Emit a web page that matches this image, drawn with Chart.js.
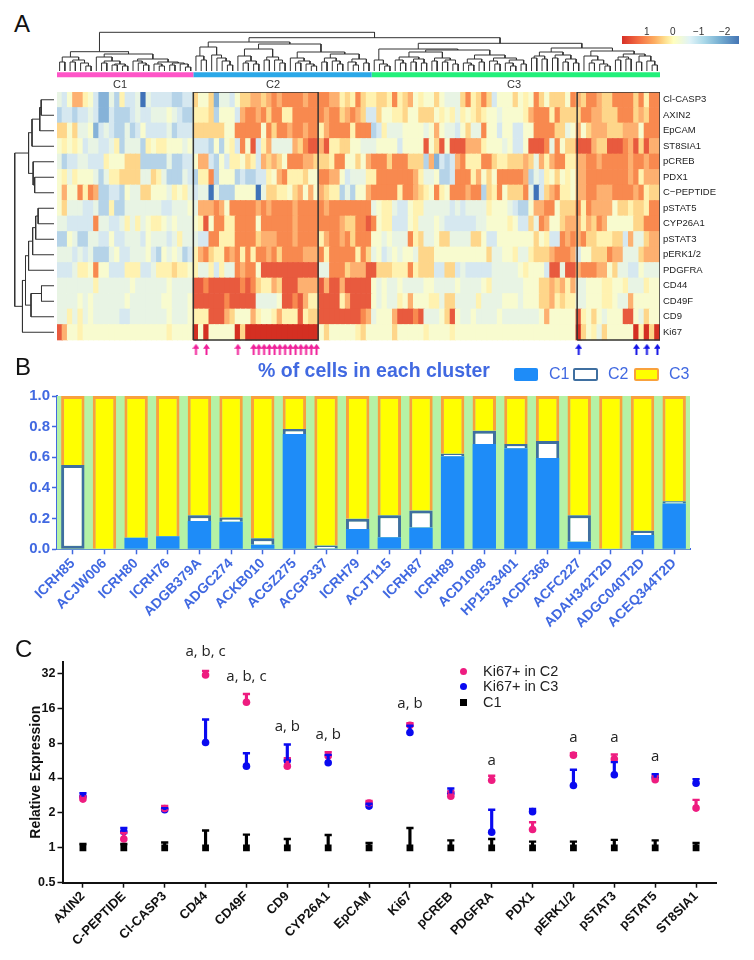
<!DOCTYPE html>
<html>
<head>
<meta charset="utf-8">
<script src="https://cdn.jsdelivr.net/npm/chart.js@4"></script>
<style>
  html, body { margin: 0; padding: 0; background: #fff; }
  #page { position: relative; width: 754px; height: 960px; overflow: hidden; font-family: "Liberation Sans", sans-serif; }
  #page canvas { position: absolute; }
  .txt { position: absolute; white-space: nowrap; line-height: 1; }
  .letter { font-size: 24px; color: #111; }
  .swatch { position: absolute; box-sizing: border-box; border-radius: 2px; }
  .dot { position: absolute; }
</style>
</head>
<body>
<div id="page">
  <canvas id="treeTop" width="603" height="48" style="left:57px;top:30px"></canvas>
  <canvas id="treeLeft" width="41" height="248" style="left:13px;top:92px"></canvas>
  <canvas id="heat" width="697" height="268" style="left:57px;top:92px"></canvas>
  <canvas id="heatOver" width="603" height="268" style="left:57px;top:92px"></canvas>
  <canvas id="clusters" width="754" height="245" style="left:0;top:385px"></canvas>
  <canvas id="expr" width="729" height="320" style="left:25px;top:640px"></canvas>

  <div class="txt letter" style="left:14px;top:12px">A</div>
  <div class="txt letter" style="left:15px;top:355px">B</div>
  <div class="txt letter" style="left:15px;top:637px">C</div>

  <div class="txt" style="left:113px;top:79px;font-size:11px;color:#333">C1</div>
  <div class="txt" style="left:266px;top:79px;font-size:11px;color:#333">C2</div>
  <div class="txt" style="left:507px;top:79px;font-size:11px;color:#333">C3</div>

  <div style="position:absolute;left:622px;top:36px;width:117px;height:8px;background:linear-gradient(to right,#d73027,#f46d43 14%,#fdae61 28%,#fee090 37%,#ffffbf 44%,#e0f3f8 58%,#abd9e9 70%,#74add1 84%,#4575b4)"></div>
  <div class="txt" style="left:644px;top:27px;font-size:10px;color:#333">1</div>
  <div class="txt" style="left:670px;top:27px;font-size:10px;color:#333">0</div>
  <div class="txt" style="left:693px;top:27px;font-size:10px;color:#333">−1</div>
  <div class="txt" style="left:719px;top:27px;font-size:10px;color:#333">−2</div>

  <div class="txt" style="left:258px;top:361px;font-size:19.5px;font-weight:bold;color:#4169e1">% of cells in each cluster</div>
  <div class="swatch" style="left:514px;top:368px;width:24px;height:13px;background:#1e8cf8"></div>
  <div class="txt" style="left:549px;top:366px;font-size:16px;color:#4169e1">C1</div>
  <div class="swatch" style="left:573px;top:368px;width:25px;height:13px;background:#fff;border:2.5px solid #3f6fa0"></div>
  <div class="txt" style="left:608px;top:366px;font-size:16px;color:#4169e1">C2</div>
  <div class="swatch" style="left:634px;top:368px;width:25px;height:13px;background:#ffff00;border:2.5px solid #f9a13c"></div>
  <div class="txt" style="left:669px;top:366px;font-size:16px;color:#4169e1">C3</div>

  <div class="dot" style="left:460px;top:668px;width:7px;height:7px;border-radius:50%;background:#ee1c80"></div>
  <div class="txt" style="left:483px;top:664px;font-size:14.5px;color:#222">Ki67+ in C2</div>
  <div class="dot" style="left:460px;top:683px;width:7px;height:7px;border-radius:50%;background:#0a0af0"></div>
  <div class="txt" style="left:483px;top:679px;font-size:14.5px;color:#222">Ki67+ in C3</div>
  <div class="dot" style="left:460px;top:699px;width:7px;height:7px;background:#000"></div>
  <div class="txt" style="left:483px;top:695px;font-size:14.5px;color:#222">C1</div>
</div>

<script>
// ---- panel A: heatmap levels, one hex digit per column (C1 | box | rest of C2 | C3 | box)
const parseRow = s => s.replace(/\s/g, '').split('').map(c => parseInt(c, 16));

const rowClCasp3 = parseRow("43588653114263340433332233 755714435778878989999899 9988676976 6776967856557544479679735557 56597577759 8799877999979699");
const rowAxin2   = parseRow("23323343113222343344454322 666725553899897996699999 9899789873 3755667557775656465676554555 56899969777 7998877799978799");
const rowEpcam   = parseRow("77574451343224235333342333 777777559999959799899899 6899996999 2364445555458544357449553553 35599997745 8578887778885999");
const rowSt8sia1 = parseRow("56565344334624442656655545 33325256395a3684444879aa 8a66775544 4555535555a57a5aaa8886555453 35aaa949577 aaa877aaa98a7a88");
const rowPcreb   = parseRow("42334433365557772222242233 588325366576387875999887 7769955758 9997999777281323896669976677 78748689966 8899899999899899");
const rowPdx1    = parseRow("56465554246677774476422243 266925552322336589666755 9988534446 6999999986445223999685759999 98243657565 8899999999896888");
const rowCpep    = parseRow("58559698223325447755546564 344042225555047766578585 8766242558 9999969987659659998992769577 79403789665 8899888999989677");
const rowPstat5  = parseRow("57444334226224444444334445 488898599999898999989999 9899999999 4566433566444443434444655543 22588995777 9698888577677699");
const rowCyp26a1 = parseRow("44333339443346464566545444 56a599669999599999989999 999987799a 9566333564445433333344555565 33749855788 8687985555577999");
const rowPstat3  = parseRow("22542244335334443544434644 433996669999788899989999 6899897999 5545444967445774444775335555 55575633989 8977666773844788");
const rowPerk    = parseRow("44434342224533444532545423 689766989696998979999888 9699999697 4534545547775555555555744556 44677789998 3557779884447888");
const rowPdgfra  = parseRow("33346659553336663346667665 6446364498995aaaaaaaaaaa 449997888a a777666967773377343333344444 565553aa4aa 8999885744335444");
const rowCd44    = parseRow("44444446444444544444454444 aa9aaaaaa9a976687aaa8888 a8aa8aaaaa 5454454444554444544445644444 45557787868 4455566556444655");
const rowCd49f   = parseRow("44445454444445444444554445 aaaaaa9aaaaa44445aa9a866 aaaa68aaaa 5454465855566477444464444555 45557786766 4455566544855555");
const rowCd9     = parseRow("44646454444433444444454445 666aaa87555865568666a677 aaaaaaaa98 45558aaa9a44457a544544445444 44445855555 a65754555aa54755");
const rowKi67    = parseRow("a8556555555555555555565555 b5b55555b7bbbbbbbbbbbbbb 5755555675 5555755555655556555555555555 55555555555 b7564755555b6b7b");

const heatRows = [rowClCasp3, rowAxin2, rowEpcam, rowSt8sia1, rowPcreb, rowPdx1, rowCpep, rowPstat5, rowCyp26a1, rowPstat3, rowPerk, rowPdgfra, rowCd44, rowCd49f, rowCd9, rowKi67];
const rowNames = ['Cl-CASP3', 'AXIN2', 'EpCAM', 'ST8SIA1', 'pCREB', 'PDX1', 'C−PEPTIDE', 'pSTAT5', 'CYP26A1', 'pSTAT3', 'pERK1/2', 'PDGFRA', 'CD44', 'CD49F', 'CD9', 'Ki67'];
const heatColors = ['#3f72b8', '#86b2d8', '#b5d3e8', '#d6e8f0', '#e8f4e4', '#f8fbcf', '#fff2b0', '#fed68a', '#fdb070', '#f8894f', '#e85a3e', '#d42f22'];

const columnCount = 115;
const clusterSizes = [26, 34, 55];
const clusterColors = ['#ff55c8', '#2ba8e8', '#22f07a'];
const arrowColsC2 = [26, 28, 34, 37, 38, 39, 40, 41, 42, 43, 44, 45, 46, 47, 48, 49];
const arrowColsC3 = [99, 110, 112, 114];
const boxSpans = [[26, 49.8], [99.2, 115]];

// dendrograms: [height, child, child], 0 is a leaf
const treeC1 = [19.3,
  [14, [9, 0, 0], [11, [9, 0, 0], [8, 0, [5, 0, 0]]]],
  [17, [14, 0, [10, [8, 0, 0], [7, [6, 0, 0], [5, 0, 0]]]],
       [12, [10, 0, [8, 0, [6, 0, 0]]], [9, [7, 0, [5, 0, 0]], [8, [6, 0, 0], [7, 0, [4, 0, 0]]]]]]];
const treeC2 = [29,
  [24, [15, 0, [11, 0, 0]], [16, 0, [13, 0, [10, 0, [6, 0, 0]]]]],
  [27,
    [22, [15, 0, [10, [8, 0, 0], [7, 0, 0]]], [14, [11, 0, 0], [11, 0, [8, 0, 0]]]],
    [19, [13, 0, [10, [8, 0, 0], [7, 0, [5, 0, 0]]]],
         [17, [13, [9, 0, 0], [10, 0, [7, 0, 0]]], [12, [9, 0, [6, 0, 0]], [8, 0, 0]]]]]];
const treeC3 = [27.7,
  [22, [11, 0, [7, 0, [5, 0, 0]]],
       [21, [19, [14, [11, 0, [8, 0, 0]], [12, [9, 0, 0], [8, 0, 0]]], [13, [10, 0, 0], [11, [9, 0, 0], [7, 0, 0]]]],
            [16, [12, [8, 0, [6, 0, 0]], [9, 0, 0]], [13, [10, 0, [7, 0, 0]], [11, [8, 0, [5, 0, 0]], [7, 0, 0]]]]]],
  [23, [19, [15, [13, 0, 0], [12, 0, 0]], [16, [13, 0, 0], [12, [9, 0, 0], [8, 0, 0]]]],
       [20, [15, 0, [11, [8, 0, 0], [7, 0, [5, 0, 0]]]],
            [17, [14, [11, 0, 0], [12, 0, 0]], [15, [9, 0, 0], [10, 0, [6, 0, 0]]]]]]];
const treeColumns = [38.7, treeC1, [33.3, treeC2, treeC3]];
const treeRows = [38.6,
  [25, [21.6, [14, [12.6, 0, 0], 0], 0], [20.5, 0, [19, 0, 0]]],
  [31, [28, [25, [21, [18, [15.6, 0, 0], 0], 0], 0], [22.6, [12.3, 0, 0], 0]], 0]];

// ---- panel B
const donors = ['ICRH85', 'ACJW006', 'ICRH80', 'ICRH76', 'ADGB379A', 'ADGC274', 'ACKB010', 'ACGZ275', 'ACGP337', 'ICRH79', 'ACJT115', 'ICRH87', 'ICRH89', 'ACD1098', 'HP1533401', 'ACDF368', 'ACFC227', 'ADAH342T2D', 'ADGC040T2D', 'ACEQ344T2D'];
const shareC1 = [0, 0, 0.076, 0.085, 0.184, 0.18, 0.03, 0.752, 0.006, 0.132, 0.078, 0.142, 0.607, 0.687, 0.659, 0.596, 0.05, 0, 0.093, 0.298];
const shareC2 = [0.55, 0, 0, 0, 0.038, 0.027, 0.042, 0.032, 0.018, 0.068, 0.144, 0.111, 0.017, 0.086, 0.028, 0.11, 0.172, 0, 0.028, 0.015];
const shareC3 = [0.45, 1, 0.924, 0.915, 0.778, 0.793, 0.928, 0.216, 0.976, 0.8, 0.778, 0.747, 0.376, 0.227, 0.313, 0.294, 0.778, 1, 0.879, 0.687];
const shareTicks = [0, 0.2, 0.4, 0.6, 0.8, 1];

// ---- panel C
const markers = ['AXIN2', 'C-PEPTIDE', 'Cl-CASP3', 'CD44', 'CD49F', 'CD9', 'CYP26A1', 'EpCAM', 'Ki67', 'pCREB', 'PDGFRA', 'PDX1', 'pERK1/2', 'pSTAT3', 'pSTAT5', 'ST8SIA1'];
const c2Mean  = [2.63, 1.19, 2.18, 30.9, 18.0, 5.06, 6.2, 2.43, 11.4, 2.79, 3.83, 1.44, 6.3, 5.82, 3.86, 2.2];
const c2Upper = [2.77, 1.34, 2.3, 33.6, 21.2, 5.94, 6.68, 2.54, 11.9, 3.06, 4.18, 1.66, 6.55, 6.38, 4.18, 2.59];
const c3Mean  = [2.77, 1.38, 2.13, 8.1, 5.06, 5.67, 5.41, 2.29, 9.88, 2.96, 1.365, 2.05, 3.45, 4.27, 4.04, 3.61];
const c3Upper = [2.96, 1.48, 2.2, 12.8, 6.55, 7.78, 6.33, 2.4, 11.3, 3.25, 2.13, 2.16, 4.71, 5.48, 4.32, 3.91];
const c1Mean  = [1, 1, 1, 1, 1, 1, 1, 1, 1, 1, 1, 1, 1, 1, 1, 1];
const c1Upper = [1.08, 1.08, 1.11, 1.41, 1.3, 1.19, 1.29, 1.1, 1.48, 1.16, 1.19, 1.13, 1.13, 1.17, 1.16, 1.1];
const exprTicks = [0.5, 1, 2, 4, 8, 16, 32];
const sigLabels = ['', '', '', 'a, b, c', 'a, b, c', 'a, b', 'a, b', '', 'a, b', '', 'a', '', 'a', 'a', 'a', ''];
const sigHeights = [0, 0, 0, 49, 30, 11.1, 9.4, 0, 17.5, 0, 5.6, 0, 8.9, 8.9, 6.1, 0];

Chart.defaults.font.family = '"Liberation Sans", sans-serif';
Chart.defaults.animation = false;
Chart.defaults.responsive = false;
Chart.defaults.layout.autoPadding = false;
Chart.defaults.plugins.legend.display = false;
Chart.defaults.plugins.tooltip.enabled = false;

// turn a nested tree into one broken line; leaves are numbered in display order
function treeToPath(tree) {
  const path = [];
  let nextLeaf = 0;
  function walk(node) {
    if (node === 0) return { pos: nextLeaf++ + 0.5, h: 0 };
    const a = walk(node[1]);
    const b = walk(node[2]);
    path.push([a.pos, a.h], [a.pos, node[0]], [b.pos, node[0]], [b.pos, b.h], null);
    return { pos: (a.pos + b.pos) / 2, h: node[0] };
  }
  walk(tree);
  return path;
}

// column dendrogram with the cluster colour bar under it
const clusterBars = [];
let clusterStart = 0;
clusterSizes.forEach((size, i) => {
  clusterBars.push({
    data: [{ x: clusterStart, y: -3.8 }, { x: clusterStart + size, y: -3.8 }],
    showLine: true, borderColor: clusterColors[i], borderWidth: 5, pointRadius: 0, borderCapStyle: 'butt'
  });
  clusterStart += size;
});
new Chart(document.getElementById('treeTop'), {
  type: 'scatter',
  data: {
    datasets: [{
      data: treeToPath(treeColumns).map(p => p ? { x: p[0], y: p[1] } : { x: null, y: null }),
      showLine: true, borderColor: '#333', borderWidth: 1, pointRadius: 0
    }, ...clusterBars]
  },
  options: {
    scales: {
      x: { type: 'linear', min: 0, max: columnCount, display: false },
      y: { type: 'linear', min: -7, max: 41, display: false }
    }
  }
});

// row dendrogram
new Chart(document.getElementById('treeLeft'), {
  type: 'scatter',
  data: {
    datasets: [{
      data: treeToPath(treeRows).map(p => p ? { x: p[1], y: p[0] } : { x: null, y: null }),
      showLine: true, borderColor: '#333', borderWidth: 1, pointRadius: 0, clip: false
    }]
  },
  options: {
    scales: {
      x: { type: 'linear', min: 0, max: 40.3, reverse: true, display: false },
      y: { type: 'linear', min: 0, max: 16, reverse: true, display: false }
    }
  }
});

function arrowIcon(color) {
  const c = document.createElement('canvas');
  c.width = 7; c.height = 11;
  const g = c.getContext('2d');
  g.fillStyle = color;
  g.beginPath();
  g.moveTo(3.5, 0); g.lineTo(7, 5); g.lineTo(4.5, 5); g.lineTo(4.5, 11);
  g.lineTo(2.5, 11); g.lineTo(2.5, 5); g.lineTo(0, 5);
  g.closePath(); g.fill();
  return c;
}

// heatmap: one stacked bar dataset per row, bottom row first
const columnIds = heatRows[0].map((_, i) => i);
const heatSets = heatRows.slice().reverse().map(row => ({
  data: columnIds.map(() => 1),
  backgroundColor: columnIds.map(i => heatColors[row[i] === undefined ? 5 : row[i]]),
  borderWidth: 0
}));
new Chart(document.getElementById('heat'), {
  type: 'bar',
  data: { labels: columnIds, datasets: heatSets },
  options: {
    datasets: { bar: { barThickness: 5.7 } },
    scales: {
      x: { display: false, stacked: true },
      y: {
        position: 'right', stacked: true, min: -1.29, max: 16,
        afterBuildTicks: s => { s.ticks = rowNames.map((_, i) => ({ value: i + 0.5 })); },
        afterFit: s => { s.width = 94; s.paddingTop = 0; s.paddingBottom = 0; },
        grid: { display: false, drawTicks: false }, border: { display: false },
        ticks: {
          autoSkip: false, padding: 3, color: '#222', font: { size: 9.5 },
          callback: v => rowNames[15 - Math.floor(v)]
        }
      }
    }
  }
});

// boxes and arrows sit on their own chart so the heatmap keeps a single x axis
const boxSets = boxSpans.map(span => ({
  data: [{ x: span[0], y: 0 }, { x: span[1], y: 0 }, { x: span[1], y: 16 }, { x: span[0], y: 16 }, { x: span[0], y: 0 }],
  showLine: true, borderColor: '#333', borderWidth: 1.5, pointRadius: 0, clip: false
}));
const arrowSet = (cols, color) => ({
  data: cols.map(c => ({ x: c + 0.5, y: -0.6 })),
  pointStyle: arrowIcon(color)
});
new Chart(document.getElementById('heatOver'), {
  type: 'scatter',
  data: { datasets: [...boxSets, arrowSet(arrowColsC2, '#f0209a'), arrowSet(arrowColsC3, '#1414e6')] },
  options: {
    scales: {
      x: { type: 'linear', min: 0, max: columnCount, display: false },
      y: { type: 'linear', min: -1.29, max: 16, display: false }
    }
  }
});

// panel B
const plotBackground = {
  id: 'plotBackground',
  beforeDatasetsDraw(chart) {
    const a = chart.chartArea;
    chart.ctx.fillStyle = '#b5f2a5';
    chart.ctx.fillRect(a.left, a.top, a.width, a.height);
  }
};
const blue = '#4169e1';
new Chart(document.getElementById('clusters'), {
  type: 'bar',
  data: {
    labels: donors,
    datasets: [
      { data: shareC1, backgroundColor: '#1e8cf8', borderColor: '#1e8cf8', borderWidth: 0, borderSkipped: false },
      {
        data: shareC2, backgroundColor: '#fff', borderColor: '#3f6fa0', borderWidth: 3,
        borderSkipped: ctx => (shareC1[ctx.dataIndex] > 0 ? 'bottom' : false)
      },
      { data: shareC3, backgroundColor: '#ffff00', borderColor: '#f9a13c', borderWidth: 3, borderSkipped: 'bottom' }
    ]
  },
  options: {
    layout: { padding: { top: 10, right: 64 } },
    datasets: { bar: { barPercentage: 0.74, categoryPercentage: 1 } },
    scales: {
      x: {
        stacked: true,
        afterFit: s => { s.height = 80.7; },
        border: { color: blue, width: 2 },
        grid: { offset: false, drawOnChartArea: false, color: blue, tickColor: blue, tickWidth: 1.5, tickLength: 5 },
        ticks: { autoSkip: false, minRotation: 45, maxRotation: 45, padding: 1, color: blue, font: { size: 14, weight: 'bold' } }
      },
      y: {
        stacked: true, min: 0, max: 1,
        afterBuildTicks: s => { s.ticks = shareTicks.map(v => ({ value: v })); },
        afterFit: s => { s.width = 57; },
        border: { color: blue, width: 2 },
        grid: { drawOnChartArea: false, tickColor: blue, tickWidth: 1.5, tickLength: 5 },
        ticks: { padding: 2, color: blue, font: { size: 15, weight: 'bold' }, callback: v => v.toFixed(1) }
      }
    }
  },
  plugins: [plotBackground]
});

// panel C: whiskers are thin floating bars, caps are line points
const whisker = (means, uppers, color, order) => ({
  type: 'bar', data: means.map((m, i) => [m, uppers[i]]), backgroundColor: color,
  barThickness: 2.5, grouped: false, order
});
const cap = (uppers, color, order) => ({
  type: 'line', data: uppers, showLine: false, pointStyle: 'line', pointRadius: 3.6,
  pointBorderColor: color, pointBorderWidth: 2.4, order
});
const centre = (means, color, style, radius, order) => ({
  type: 'line', data: means, showLine: false, pointStyle: style, pointRadius: radius,
  pointBackgroundColor: color, pointBorderColor: color, pointBorderWidth: 0, order
});
const sigText = {
  id: 'sigText',
  afterDraw(chart) {
    const g = chart.ctx;
    g.save();
    g.font = '15px "Open Sans"';
    g.fillStyle = '#222';
    g.textAlign = 'center';
    g.textBaseline = 'middle';
    sigLabels.forEach((label, i) => {
      if (label) g.fillText(label, chart.scales.x.getPixelForValue(i), chart.scales.y.getPixelForValue(sigHeights[i]));
    });
    g.restore();
  }
};
new Chart(document.getElementById('expr'), {
  type: 'bar',
  data: {
    labels: markers,
    datasets: [
      centre(c3Mean, '#0a0af0', 'circle', 3.8, 9),
      whisker(c2Mean, c2Upper, '#ee1c80', 8),
      cap(c2Upper, '#ee1c80', 7),
      centre(c2Mean, '#ee1c80', 'circle', 3.8, 6),
      whisker(c3Mean, c3Upper, '#0a0af0', 5),
      cap(c3Upper, '#0a0af0', 4),
      whisker(c1Mean, c1Upper, '#000', 3),
      cap(c1Upper, '#000', 2),
      centre(c1Mean, '#000', 'rect', 4.8, 1)
    ]
  },
  options: {
    layout: { padding: { top: 21.7, right: 37.5 } },
    scales: {
      x: {
        afterFit: s => { s.height = 77.3; },
        border: { color: '#111', width: 2 },
        grid: { offset: false, drawOnChartArea: false, tickColor: '#111', tickWidth: 1.5, tickLength: 5 },
        ticks: { autoSkip: false, minRotation: 45, maxRotation: 45, padding: 1, color: '#111', font: { size: 13, weight: 'bold' } }
      },
      y: {
        type: 'logarithmic', min: 0.5, max: 40.3,
        afterBuildTicks: s => { s.ticks = exprTicks.map(v => ({ value: v })); },
        afterFit: s => { s.width = 37.5; },
        border: { color: '#111', width: 2 },
        grid: { drawOnChartArea: false, tickColor: '#111', tickWidth: 1.5, tickLength: 5 },
        title: { display: true, text: 'Relative Expression', color: '#111', font: { size: 14, weight: 'bold' }, padding: { top: 3, bottom: 0 } },
        ticks: { padding: 2, color: '#111', font: { size: 12.5, weight: 'bold' }, callback: v => String(v) }
      }
    }
  },
  plugins: [sigText]
});
</script>
</body>
</html>
